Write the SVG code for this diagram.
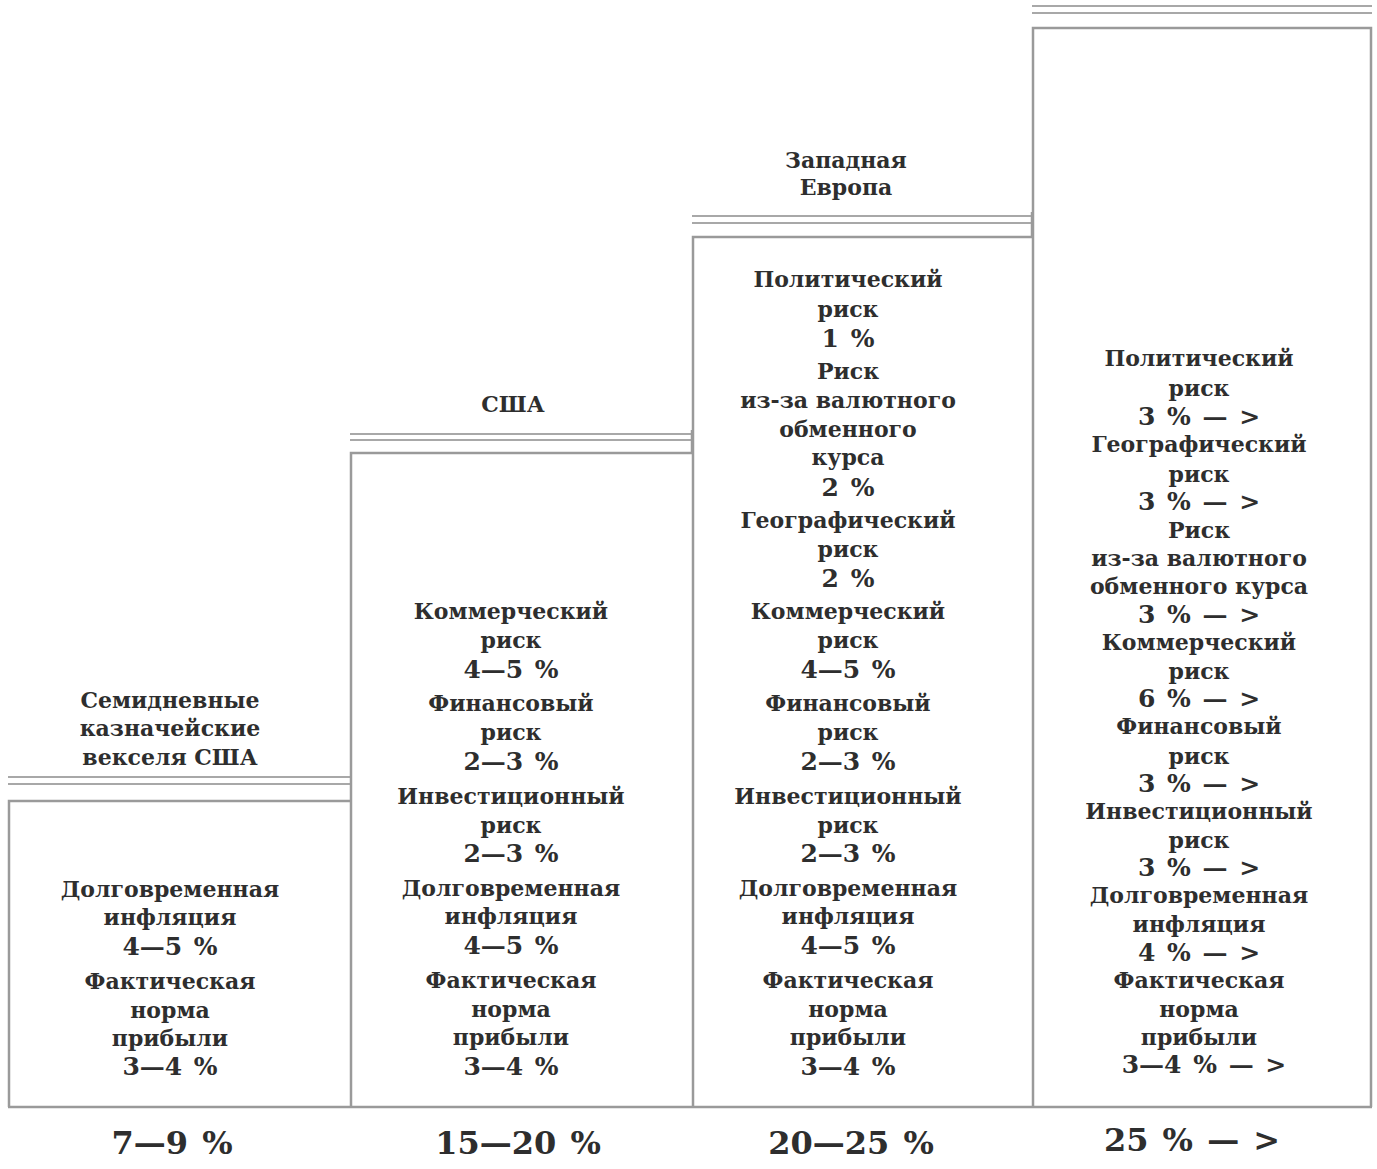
<svg xmlns="http://www.w3.org/2000/svg" width="1377" height="1169" viewBox="0 0 1377 1169">
<style>
.bg{fill:#ffffff}
.ln{stroke:#9a9a9a;stroke-width:2.5;fill:none}
.ln2{stroke:#a8a8a8;stroke-width:2;fill:none}
.t{font-family:"DejaVu Serif","Liberation Serif",serif;font-weight:bold;font-size:22px;fill:#2e2e2e;text-anchor:middle}
.p{font-size:25px;word-spacing:3px}
.g{font-weight:normal}
.b{font-family:"DejaVu Serif","Liberation Serif",serif;font-weight:bold;font-size:32px;fill:#2e2e2e;text-anchor:middle;word-spacing:3px}
</style>
<rect class="bg" x="0" y="0" width="1377" height="1169"/>
<g id="connectors">
<path class="ln2" d="M8 777H350M8 784H350"/>
<path class="ln2" d="M350 434H692M350 440H692"/>
<path class="ln2" d="M692 216H1032M692 223H1032"/>
<path class="ln2" d="M1032 6H1372M1032 13H1372"/>
<path class="ln" d="M8 1107H1372"/>
</g>
<g id="col1">
<path class="ln" d="M9 1107V801H350"/>
<g class="t">
<text x="170" y="708">Семидневные</text>
<text x="170" y="736">казначейские</text>
<text x="170" y="765">векселя США</text>
<text x="170" y="897">Долговременная</text>
<text x="170" y="925">инфляция</text>
<text class="p" x="170" y="955">4—5 %</text>
<text x="170" y="989">Фактическая</text>
<text x="170" y="1018">норма</text>
<text x="170" y="1046">прибыли</text>
<text class="p" x="170" y="1075">3—4 %</text>
</g>
</g>
<g id="col2">
<path class="ln" d="M351 1107V453H692M351 780V801"/>
<g class="t">
<text x="513" y="412">США</text>
<text x="511" y="619">Коммерческий</text>
<text x="511" y="648">риск</text>
<text class="p" x="511" y="678">4—5 %</text>
<text x="511" y="711">Финансовый</text>
<text x="511" y="740">риск</text>
<text class="p" x="511" y="770">2—3 %</text>
<text x="511" y="804">Инвестиционный</text>
<text x="511" y="833">риск</text>
<text class="p" x="511" y="862">2—3 %</text>
<text x="511" y="896">Долговременная</text>
<text x="511" y="924">инфляция</text>
<text class="p" x="511" y="954">4—5 %</text>
<text x="511" y="988">Фактическая</text>
<text x="511" y="1017">норма</text>
<text x="511" y="1045">прибыли</text>
<text class="p" x="511" y="1075">3—4 %</text>
</g>
</g>
<g id="col3">
<path class="ln" d="M693 1107V237H1032M692 430V453"/>
<g class="t">
<text x="846" y="168">Западная</text>
<text x="846" y="195">Европа</text>
<text x="848" y="287">Политический</text>
<text x="848" y="317">риск</text>
<text class="p" x="848" y="347">1 %</text>
<text x="848" y="379">Риск</text>
<text x="848" y="408">из-за валютного</text>
<text x="848" y="437">обменного</text>
<text x="848" y="465">курса</text>
<text class="p" x="848" y="496">2 %</text>
<text x="848" y="528">Географический</text>
<text x="848" y="557">риск</text>
<text class="p" x="848" y="587">2 %</text>
<text x="848" y="619">Коммерческий</text>
<text x="848" y="648">риск</text>
<text class="p" x="848" y="678">4—5 %</text>
<text x="848" y="711">Финансовый</text>
<text x="848" y="740">риск</text>
<text class="p" x="848" y="770">2—3 %</text>
<text x="848" y="804">Инвестиционный</text>
<text x="848" y="833">риск</text>
<text class="p" x="848" y="862">2—3 %</text>
<text x="848" y="896">Долговременная</text>
<text x="848" y="924">инфляция</text>
<text class="p" x="848" y="954">4—5 %</text>
<text x="848" y="988">Фактическая</text>
<text x="848" y="1017">норма</text>
<text x="848" y="1045">прибыли</text>
<text class="p" x="848" y="1075">3—4 %</text>
</g>
</g>
<g id="col4">
<path class="ln" d="M1033 1107V28H1371V1107M1032 212V237"/>
<g class="t">
<text x="1199" y="366">Политический</text>
<text x="1199" y="396">риск</text>
<text class="p" x="1199" y="425">3 % — &gt;</text>
<text x="1199" y="452">Географический</text>
<text x="1199" y="482">риск</text>
<text class="p" x="1199" y="510">3 % — &gt;</text>
<text x="1199" y="538">Риск</text>
<text x="1199" y="566">из-за валютного</text>
<text x="1199" y="594">обменного курса</text>
<text class="p" x="1199" y="623">3 % — &gt;</text>
<text x="1199" y="650">Коммерческий</text>
<text x="1199" y="679">риск</text>
<text class="p" x="1199" y="707">6 % — &gt;</text>
<text x="1199" y="734">Финансовый</text>
<text x="1199" y="764">риск</text>
<text class="p" x="1199" y="792">3 % — &gt;</text>
<text x="1199" y="819">Инвестиционный</text>
<text x="1199" y="848">риск</text>
<text class="p" x="1199" y="876">3 % — &gt;</text>
<text x="1199" y="903">Долговременная</text>
<text x="1199" y="932">инфляция</text>
<text class="p" x="1199" y="961">4 % — &gt;</text>
<text x="1199" y="988">Фактическая</text>
<text x="1199" y="1017">норма</text>
<text x="1199" y="1045">прибыли</text>
<text class="p" x="1204" y="1073">3—4 % — &gt;</text>
</g>
</g>
<g id="totals" class="b">
<text x="172" y="1154">7—9 %</text>
<text x="518" y="1154">15—20 %</text>
<text x="851" y="1154">20—25 %</text>
<text x="1192" y="1151">25 % — &gt;</text>
</g>
</svg>
